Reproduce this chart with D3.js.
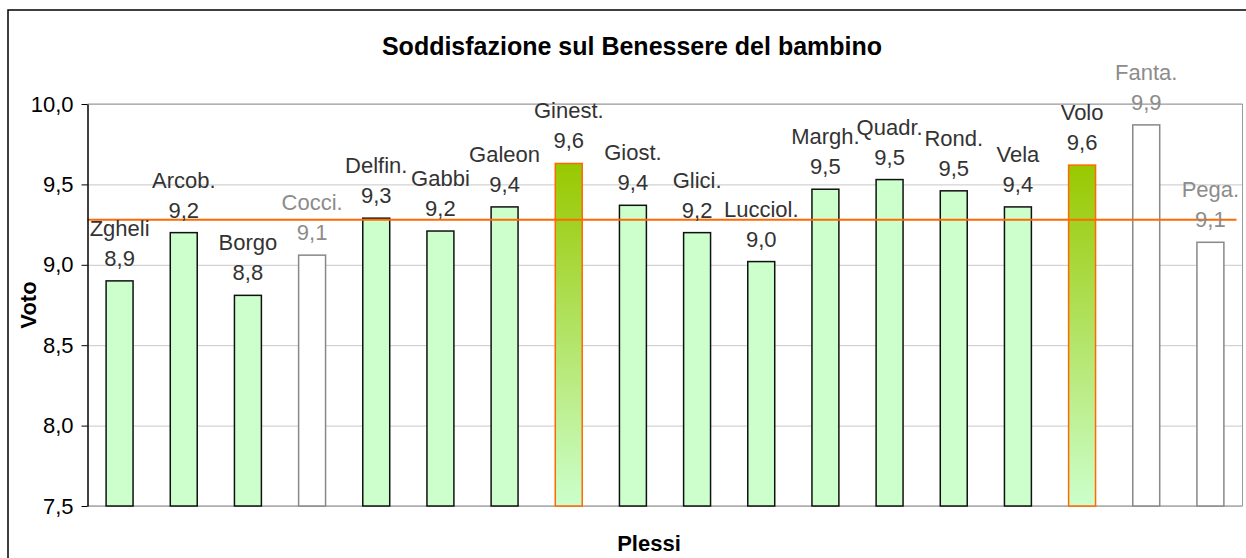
<!DOCTYPE html>
<html>
<head>
<meta charset="utf-8">
<script src="https://cdn.jsdelivr.net/npm/d3@7"></script>
<style>
    body { margin: 0; background: #fff; }
    svg text { font-family: "Liberation Sans", Arial, sans-serif; }
</style>
</head>
<body>
<div id="chart"></div>
<script>
// dati
const plessi = ['Zgheli', 'Arcob.', 'Borgo', 'Cocci.', 'Delfin.', 'Gabbi', 'Galeon', 'Ginest.', 'Giost.',
    'Glici.', 'Lucciol.', 'Margh.', 'Quadr.', 'Rond.', 'Vela', 'Volo', 'Fanta.', 'Pega.'];
const voti = [8.90, 9.20, 8.81, 9.06, 9.29, 9.21, 9.36, 9.63, 9.37,
    9.20, 9.02, 9.47, 9.53, 9.46, 9.36, 9.62, 9.87, 9.14];
// normale / evidenziato / escluso
const gruppi = ['normale', 'normale', 'normale', 'escluso', 'normale', 'normale', 'normale', 'evidenziato', 'normale',
    'normale', 'normale', 'normale', 'normale', 'normale', 'normale', 'evidenziato', 'escluso', 'escluso'];
const mediaVoti = 9.28;
const tickVoti = [7.5, 8.0, 8.5, 9.0, 9.5, 10.0];

const titolo = 'Soddisfazione sul Benessere del bambino';
const titoloY = 'Voto';
const titoloX = 'Plessi';

const W = 1246, H = 558;
const margin = {top: 104, right: 3.5, bottom: 52, left: 87.5};
const width = W - margin.left - margin.right;
const height = H - margin.top - margin.bottom;

let locale = d3.formatLocale({decimal: ',', thousands: '.', grouping: [3], currency: ['', '€']});
let fmt = locale.format('.1f');

let svg = d3.select('#chart').append('svg')
    .attr('width', W)
    .attr('height', H);

// gradiente per le barre evidenziate
let grad = svg.append('defs').append('linearGradient')
    .attr('id', 'grad-evid')
    .attr('x1', 0).attr('y1', 0).attr('x2', 0).attr('y2', 1);
grad.append('stop').attr('offset', '0%').attr('stop-color', '#99c800');
grad.append('stop').attr('offset', '100%').attr('stop-color', '#ccffcc');

// bordo esterno
svg.append('rect')
    .attr('x', 8).attr('y', 10)
    .attr('width', 1260).attr('height', 570)
    .attr('fill', 'none')
    .attr('stroke', '#000')
    .attr('stroke-width', 1.5);

svg.append('text')
    .attr('x', 632).attr('y', 55)
    .attr('text-anchor', 'middle')
    .style('font-size', '25px')
    .style('font-weight', 'bold')
    .text(titolo);

let g = svg.append('g').attr('transform', 'translate(' + margin.left + ',' + margin.top + ')');

let x = d3.scaleBand()
    .domain(plessi)
    .range([0, width])
    .paddingInner(0.58)
    .paddingOuter(0.29);

let y = d3.scaleLinear()
    .domain([7.5, 10])
    .range([height, 0]);

// griglia
g.append('g')
    .attr('class', 'grid')
    .call(d3.axisLeft(y).tickValues(tickVoti).tickSize(-width).tickFormat(''))
    .call(function(s) {
        s.select('.domain').remove();
        s.selectAll('line').attr('stroke', '#c8c8c8');
    });

// cornice area grafico
g.append('line').attr('x1', 0).attr('x2', width).attr('y1', y(10)).attr('y2', y(10))
    .attr('stroke', '#999');
g.append('line').attr('x1', width).attr('x2', width).attr('y1', 0).attr('y2', height)
    .attr('stroke', '#999');
g.append('line').attr('x1', 0).attr('x2', width).attr('y1', height).attr('y2', height)
    .attr('stroke', '#aaa').attr('stroke-width', 1.5);

let dati = plessi.map(function(p, i) {
    return {nome: p, voto: voti[i], gruppo: gruppi[i]};
});

function fillOf(d) {
    if (d.gruppo == 'evidenziato') return 'url(#grad-evid)';
    if (d.gruppo == 'escluso') return '#fff';
    return '#ccffcc';
}
function strokeOf(d) {
    if (d.gruppo == 'evidenziato') return '#ff6a00';
    if (d.gruppo == 'escluso') return '#888';
    return '#111';
}

g.selectAll('rect.bar').data(dati).enter()
    .append('rect')
    .attr('class', 'bar')
    .attr('x', function(d) { return x(d.nome); })
    .attr('y', function(d) { return y(d.voto); })
    .attr('width', x.bandwidth())
    .attr('height', function(d) { return height - y(d.voto); })
    .attr('fill', fillOf)
    .attr('stroke', strokeOf)
    .attr('stroke-width', 1.5);

// linea della media
g.append('line')
    .attr('x1', 0).attr('x2', width - 6)
    .attr('y1', y(mediaVoti)).attr('y2', y(mediaVoti))
    .attr('stroke', '#ff6a00')
    .attr('stroke-width', 2);

// etichette: nome + voto
let lab = g.selectAll('g.lab').data(dati).enter()
    .append('g')
    .attr('class', 'lab')
    .attr('transform', function(d) {
        return 'translate(' + (x(d.nome) + x.bandwidth() / 2) + ',' + (y(d.voto) - 15) + ')';
    })
    .style('fill', function(d) { return d.gruppo == 'escluso' ? '#8c8c8c' : '#333'; })
    .style('font-size', '22px')
    .attr('text-anchor', 'middle');
lab.append('text').attr('y', -30).text(function(d) { return d.nome; });
lab.append('text').attr('y', 0).text(function(d) { return fmt(d.voto); });

// asse y
g.append('g')
    .attr('class', 'axis-y')
    .call(d3.axisLeft(y).tickValues(tickVoti).tickFormat(fmt).tickSize(6).tickSizeOuter(0).tickPadding(8))
    .call(function(s) {
        s.select('.domain').attr('stroke', '#000').attr('stroke-width', 1.5);
        s.selectAll('line').attr('stroke', '#000');
        s.selectAll('text')
            .style('font-size', '22px')
            .attr('fill', '#000')
            .style('font-family', '"Liberation Sans", Arial, sans-serif');
    });

svg.append('text')
    .attr('transform', 'translate(36,' + (margin.top + height / 2) + ') rotate(-90)')
    .attr('text-anchor', 'middle')
    .style('font-size', '22px')
    .style('font-weight', 'bold')
    .text(titoloY);

svg.append('text')
    .attr('x', 649).attr('y', 551)
    .attr('text-anchor', 'middle')
    .style('font-size', '22px')
    .style('font-weight', 'bold')
    .text(titoloX);
</script>
</body>
</html>
